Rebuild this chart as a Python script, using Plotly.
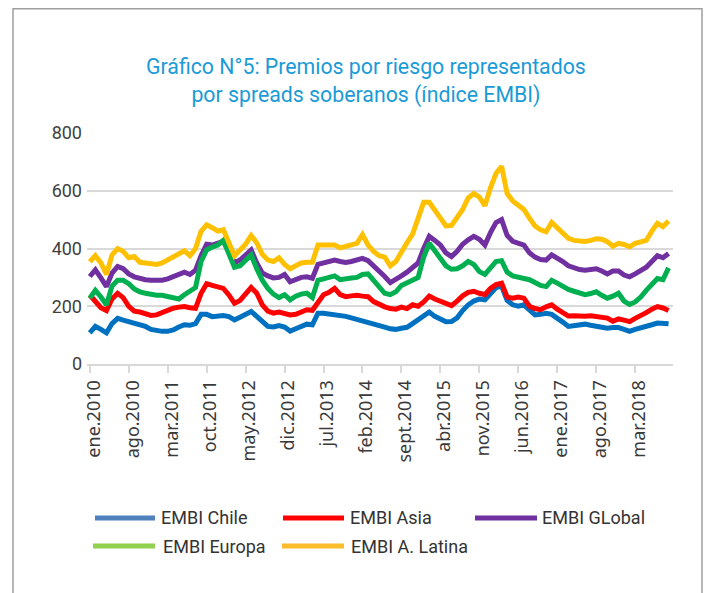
import plotly.graph_objects as go

# ---------------- data ----------------
month_abbr = ["ene", "feb", "mar", "abr", "may", "jun", "jul", "ago", "sept", "oct", "nov", "dic"]
months = [f"{m}.{y}" for y in range(2010, 2019) for m in month_abbr][:105]   # ene.2010 .. sept.2018
tick_labels = months[::7]

series_names = ["EMBI Chile", "EMBI Asia", "EMBI GLobal", "EMBI Europa", "EMBI A. Latina"]

embi_chile = [
    108, 130, 120, 108, 140, 158, 152, 146, 143, 138,
    130, 120, 115, 113, 113, 118, 128, 136, 134, 140,
    172, 172, 164, 167, 168, 164, 153, 162, 172, 182,
    165, 145, 130, 128, 133, 128, 114, 122, 132, 138,
    136, 176, 176, 174, 172, 168, 165, 160, 155, 150,
    147, 140, 134, 128, 122, 120, 124, 127, 140, 155,
    170, 180, 165, 155, 146, 147, 160, 185, 205, 218,
    225, 222, 245, 265, 270, 220, 205, 200, 205, 190,
    170, 172, 176, 172, 160, 145, 130, 133, 136, 138,
    134, 130, 127, 124, 126, 126, 120, 113, 120, 124,
    130, 136, 142, 140, 139,
]
embi_asia = [
    239, 215, 195, 185, 225, 245, 230, 200, 183, 180,
    175, 168, 170, 178, 186, 193, 197, 199, 195, 193,
    245, 278, 272, 266, 262, 239, 210, 220, 240, 265,
    245, 205, 183, 176, 180, 174, 170, 172, 178, 188,
    186, 215, 240, 248, 262, 240, 233, 236, 238, 235,
    233, 216, 205, 198, 192, 190, 197, 192, 205, 200,
    215, 235, 225, 218, 212, 202, 218, 236, 248, 252,
    245, 240, 262, 275, 280, 232, 228, 232, 228, 200,
    192, 188, 198, 205, 190, 178, 166, 167, 165, 165,
    167, 164, 162, 159, 148, 156, 152, 147, 158, 167,
    178, 190, 199, 194, 185,
]
embi_global = [
    303, 326, 298, 268, 315, 338, 330, 312, 302, 296,
    292, 290, 290, 290, 295, 302, 310, 318, 310, 325,
    375, 415, 412, 418, 425, 390, 350, 360, 375, 395,
    350, 315, 305, 298, 300, 310, 285, 292, 300, 302,
    297, 345, 350, 355, 360, 355, 352, 355, 360, 366,
    358, 340, 325, 303, 282, 292, 305, 318, 335, 350,
    400, 442, 428, 412, 385, 372, 390, 415, 430, 442,
    432, 412, 455, 490, 500, 445, 425, 418, 412, 385,
    370, 362, 360, 378, 368, 355, 340, 333, 327, 325,
    326, 330, 322, 312, 322, 322, 308, 302, 312, 322,
    335, 355, 375, 368, 383,
]
embi_europa = [
    228, 255, 232, 205, 270, 290, 290, 278, 260, 250,
    245, 240, 238, 238, 235, 232, 225, 240, 252, 265,
    355, 395, 405, 412, 428, 385, 335, 340, 360, 378,
    330, 290, 262, 242, 230, 240, 222, 235, 242, 245,
    230, 290, 295, 298, 305, 292, 297, 298, 300, 310,
    312, 290, 268, 245, 240, 250, 272, 280, 288, 300,
    370, 418, 392, 365, 340, 328, 330, 340, 355, 345,
    320, 310, 335, 355, 358, 318, 305, 302, 298, 292,
    282, 272, 268, 290, 280, 268, 258, 252, 246, 240,
    244, 250, 238, 228, 235, 245, 218, 206, 215, 232,
    255, 275, 296, 292, 333,
]
embi_latina = [
    354, 375, 350, 310, 378, 400, 390, 368, 372, 352,
    350, 348, 345, 350, 360, 372, 380, 392, 375, 400,
    460, 482, 472, 460, 465, 420, 375, 395, 415, 445,
    420, 380, 360, 355, 368, 345, 330, 340, 350, 352,
    352, 412, 412, 410, 412, 402, 408, 415, 418, 448,
    412, 390, 375, 370, 340, 355, 390, 420, 450, 500,
    560, 560, 535, 505, 478, 480, 505, 535, 575, 590,
    578, 548, 610, 660, 685, 590, 565, 550, 535, 505,
    478, 465, 458, 490, 472, 450, 435, 428, 425, 424,
    428, 434, 432, 424, 408, 418, 414, 406, 418, 424,
    428, 460, 487, 476, 495,
]
series_values = [embi_chile, embi_asia, embi_global, embi_europa, embi_latina]

# ---------------- styles ----------------
line_colors = ["#0070c0", "#ff0000", "#7030a0", "#00b050", "#ffc000"]
legend_colors = ["#4f81bd", "#ff0000", "#7030a0", "#92d050", "#fbbc2c"]
FONT = "Roboto, Liberation Sans, sans-serif"

OFF = 8                      # page body margin of the written html
W, H = 711 - OFF, 593 - OFF  # figure size so that it fits the window
ML, MR, MT, MB = 87 - OFF, 38, 133 - OFF, 229
PW, PH = W - ML - MR, H - MT - MB


def px_x(x):   # page pixel -> paper coordinate
    return (x - OFF - ML) / PW


def px_y(y):
    return (H - MB - (y - OFF)) / PH


fig = go.Figure()
for name, vals, col in zip(series_names, series_values, line_colors):
    fig.add_trace(go.Scatter(
        x=months, y=vals, name=name, mode="lines",
        line=dict(color=col, width=5, shape="linear"),
        showlegend=False,
    ))

# manual legend (two rows)
legend_pos = [  # (line x0, line x1, y, text x) in page pixels
    (95, 155, 518, 159),
    (283, 344, 518, 348),
    (475, 537, 518, 540),
    (93, 155, 546, 161),
    (282, 344, 546, 349),
]
shapes = []
annotations = []
for name, col, (lx0, lx1, ly, tx) in zip(series_names, legend_colors, legend_pos):
    shapes.append(dict(type="line", xref="paper", yref="paper",
                       x0=px_x(lx0), x1=px_x(lx1), y0=px_y(ly), y1=px_y(ly),
                       line=dict(color=col, width=5)))
    annotations.append(dict(text=name, xref="paper", yref="paper",
                            x=px_x(tx), y=px_y(ly), xanchor="left", yanchor="middle",
                            showarrow=False, font=dict(family=FONT, size=18, color="#333333")))

# outer frame
shapes.append(dict(type="rect", xref="paper", yref="paper",
                   x0=px_x(13), x1=px_x(702), y0=px_y(640), y1=px_y(8.7),
                   line=dict(color="#a0a0a0", width=1.5), fillcolor="rgba(0,0,0,0)", layer="below"))

# title
annotations.append(dict(
    text="Gráfico N°5: Premios por riesgo representados<br>por spreads soberanos (índice EMBI)",
    xref="paper", yref="paper", x=px_x(366), y=px_y(81), xanchor="center", yanchor="middle",
    showarrow=False, align="center",
    font=dict(family=FONT, size=21.3, color="#1a9bd7")))

fig.update_layout(
    width=W, height=H,
    margin=dict(l=ML, r=MR, t=MT, b=MB, autoexpand=False),
    paper_bgcolor="white", plot_bgcolor="white",
    shapes=shapes, annotations=annotations,
    showlegend=False,
)
fig.update_xaxes(
    type="category", range=[-0.5, 104.8],
    tickmode="array", tickvals=tick_labels, ticktext=tick_labels,
    tickangle=-90, ticks="outside", ticklen=7, tickwidth=2, tickcolor="#d9d9d9",
    showline=True, linecolor="#d9d9d9", linewidth=2, showgrid=False,
    tickfont=dict(family="Noto Sans, Open Sans, sans-serif", size=18, color="#3a3a3a"),
    ticklabelshift=4,
)
fig.update_yaxes(
    range=[0, 800], tickmode="array", tickvals=[0, 200, 400, 600, 800],
    showgrid=True, gridcolor="#d9d9d9", gridwidth=2, zeroline=False, showline=False,
    ticks="", ticklabelstandoff=4,
    tickfont=dict(family=FONT, size=18, color="#404040"),
)

fig.write_html("out.html")
